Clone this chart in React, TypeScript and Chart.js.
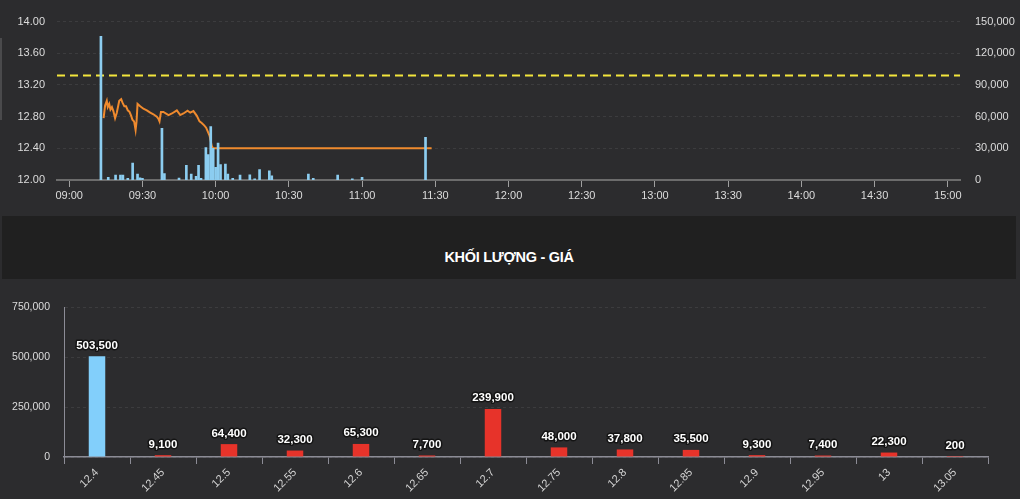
import React, { useEffect, useRef } from "react";
import { Chart, registerables } from "chart.js";

Chart.register(...registerables);

// ---------- Intraday data ----------
const timeTicks = ["09:00", "09:30", "10:00", "10:30", "11:00", "11:30", "12:00", "12:30", "13:00", "13:30", "14:00", "14:30", "15:00"];
const priceTicks = [12, 12.4, 12.8, 13.2, 13.6, 14];
const volumeTicks = [0, 30000, 60000, 90000, 120000, 150000];
const referencePrice = 13.32;

const priceTimes = [
  "09:14:06", "09:14:42", "09:15:24", "09:15:48", "09:16:24", "09:16:54", "09:17:30", "09:18:06", "09:18:48", "09:19:30",
  "09:20:30", "09:21:18", "09:21:48", "09:22:36", "09:23:18", "09:24:00", "09:24:42", "09:25:24", "09:25:54", "09:26:36",
  "09:27:12", "09:27:36", "09:28:00", "09:29:06", "09:30:24", "09:31:48", "09:33:12", "09:34:30", "09:35:54", "09:36:36",
  "09:37:00", "09:37:36", "09:38:36", "09:40:42", "09:42:06", "09:44:06", "09:45:30", "09:46:48", "09:48:30", "09:49:36",
  "09:50:54", "09:52:18", "09:53:24", "09:54:18", "09:55:18", "09:56:06", "09:56:48", "09:57:30", "09:58:24", "09:58:54",
  "11:28:30",
];
const priceValues = [
  12.78, 12.94, 13.0, 12.92, 12.96, 12.89, 12.92, 12.87, 12.78, 12.85,
  13.0, 13.02, 12.98, 12.93, 12.93, 12.88, 12.86, 12.81, 12.76, 12.74,
  12.63, 12.74, 12.96, 12.93, 12.9, 12.88, 12.85, 12.83, 12.8, 12.77,
  12.74, 12.86, 12.86, 12.82, 12.84, 12.88, 12.82, 12.84, 12.875, 12.85,
  12.87, 12.81, 12.74, 12.72, 12.69, 12.66, 12.61, 12.56, 12.43, 12.4,
  12.4,
];

const volumeTimes = [
  "09:13", "09:16", "09:19", "09:21", "09:22", "09:24", "09:26", "09:28", "09:29", "09:30",
  "09:38", "09:39", "09:45", "09:48", "09:50", "09:52", "09:53", "09:54", "09:56", "09:57",
  "09:58", "09:59", "10:00", "10:01", "10:02", "10:04", "10:05", "10:07", "10:10", "10:14",
  "10:16", "10:18", "10:22", "10:23", "10:38", "10:40", "10:50", "10:56", "11:00", "11:26",
];
const volumeValues = [
  136000, 2500, 4600, 4600, 4600, 1500, 16000, 5500, 2000, 1500,
  49000, 6100, 1800, 13800, 5500, 3500, 13800, 1500, 30700, 24000,
  50600, 30000, 12000, 35000, 14700, 15000, 5500, 1500, 4600, 5000,
  1200, 9800, 8600, 4000, 5500, 1500, 4600, 1000, 2500, 40500,
];

// ---------- Volume by price ----------
const chartTitle = "KHỐI LƯỢNG - GIÁ";
const levelPrices = ["12.4", "12.45", "12.5", "12.55", "12.6", "12.65", "12.7", "12.75", "12.8", "12.85", "12.9", "12.95", "13", "13.05"];
const levelVolumes = [503500, 9100, 64400, 32300, 65300, 7700, 239900, 48000, 37800, 35500, 9300, 7400, 22300, 200];
const levelTicks = [0, 250000, 500000, 750000];
const highlightLevel = "12.4";

const FONT = "'Liberation Sans', Arial, Helvetica, sans-serif";
const BG = "#2c2c2e";

const toMin = (s: string) => {
  const p = s.split(":").map(Number);
  return p[0] * 60 + p[1] + (p[2] || 0) / 60;
};
const fmtTime = (m: number) => {
  const h = Math.floor(m / 60);
  const mm = Math.round(m - h * 60);
  return String(h).padStart(2, "0") + ":" + String(mm).padStart(2, "0");
};
const fmtNum = (v: number) => Number(v).toLocaleString("en-US");

export default function App() {
  const topRef = useRef<HTMLCanvasElement | null>(null);
  const botRef = useRef<HTMLCanvasElement | null>(null);

  useEffect(() => {
    document.body.style.margin = "0";
    document.body.style.background = BG;
    const xMin = toMin(timeTicks[0]) - 5;
    const xMax = toMin(timeTicks[timeTicks.length - 1]) + 5;

    const top = new Chart(topRef.current!, {
      type: "bar",
      data: {
        datasets: [
          {
            type: "bar",
            data: volumeTimes.map((t, i) => ({ x: toMin(t), y: volumeValues[i] })),
            backgroundColor: "#8ccdf0",
            barThickness: 2,
            yAxisID: "y1",
          } as any,
          {
            type: "line",
            data: priceTimes.map((t, i) => ({ x: toMin(t), y: priceValues[i] })),
            borderColor: "#ef8a2e",
            borderWidth: 2,
            pointRadius: 0,
            tension: 0,
            yAxisID: "y",
          },
          {
            type: "line",
            data: [
              { x: xMin, y: referencePrice },
              { x: xMax, y: referencePrice },
            ],
            borderColor: "#f3e63c",
            borderWidth: 2,
            borderDash: [8, 5],
            pointRadius: 0,
            yAxisID: "y",
          },
        ],
      },
      options: {
        responsive: false,
        animation: false,
        events: [],
        layout: { padding: { top: 17, left: 0, right: 0, bottom: 0 } },
        plugins: { legend: { display: false }, tooltip: { enabled: false } },
        scales: {
          x: {
            type: "linear",
            offset: false,
            min: xMin,
            max: xMax,
            afterBuildTicks: (s: any) => {
              s.ticks = timeTicks.map((t) => ({ value: toMin(t) }));
            },
            afterFit: (s: any) => {
              s.height = 35;
            },
            ticks: {
              color: "#dcdcdc",
              font: { family: FONT, size: 11 },
              padding: 2,
              maxRotation: 0,
              autoSkip: false,
              callback: (v: any) => fmtTime(Number(v)),
            },
            grid: { display: true, offset: false, drawOnChartArea: false, drawTicks: true, tickLength: 7, color: "#a0a0a0", tickWidth: 1 },
            border: { display: true, color: "#6c6c6c", width: 2 },
          },
          y: {
            position: "left",
            min: priceTicks[0],
            max: priceTicks[priceTicks.length - 1],
            afterBuildTicks: (s: any) => {
              s.ticks = priceTicks.map((v) => ({ value: v }));
            },
            afterFit: (s: any) => {
              s.width = 57;
            },
            ticks: {
              color: "#dcdcdc",
              font: { family: FONT, size: 11 },
              padding: 12,
              callback: (v: any) => Number(v).toFixed(2),
            },
            grid: { color: "rgba(255,255,255,0.08)", drawTicks: false, lineWidth: 1 },
            border: { display: false, dash: [3, 3] },
          },
          y1: {
            position: "right",
            min: volumeTicks[0],
            max: volumeTicks[volumeTicks.length - 1],
            afterBuildTicks: (s: any) => {
              s.ticks = volumeTicks.map((v) => ({ value: v }));
            },
            afterFit: (s: any) => {
              s.width = 60;
            },
            ticks: {
              color: "#dcdcdc",
              font: { family: FONT, size: 11 },
              padding: 15,
              callback: (v: any) => fmtNum(v),
            },
            grid: { display: false, drawTicks: false },
            border: { display: false },
          },
        },
      } as any,
    });

    const labelPlugin = {
      id: "barValueLabels",
      afterDatasetsDraw(chart: any) {
        const ctx = chart.ctx;
        const meta = chart.getDatasetMeta(0);
        ctx.save();
        ctx.font = `bold 11.5px ${FONT}`;
        ctx.textAlign = "center";
        ctx.textBaseline = "bottom";
        ctx.lineJoin = "round";
        ctx.lineWidth = 3;
        ctx.strokeStyle = "rgba(18,18,18,0.9)";
        ctx.fillStyle = "#ffffff";
        meta.data.forEach((el: any, i: number) => {
          const text = fmtNum(levelVolumes[i]);
          ctx.strokeText(text, el.x, el.y - 5);
          ctx.fillText(text, el.x, el.y - 5);
        });
        ctx.restore();
      },
    };

    const bot = new Chart(botRef.current!, {
      type: "bar",
      data: {
        labels: levelPrices,
        datasets: [
          {
            data: levelVolumes,
            backgroundColor: levelPrices.map((p) => (p === highlightLevel ? "#82cffb" : "#e7332a")),
            barPercentage: 0.25,
            categoryPercentage: 1,
          },
        ],
      },
      options: {
        responsive: false,
        animation: false,
        events: [],
        layout: { padding: { top: 28, left: 0, right: 32, bottom: 0 } },
        plugins: { legend: { display: false }, tooltip: { enabled: false } },
        scales: {
          x: {
            afterFit: (s: any) => {
              s.height = 42;
            },
            ticks: {
              color: "#d4d4d4",
              font: { family: FONT, size: 11 },
              minRotation: 45,
              maxRotation: 45,
              autoSkip: false,
              padding: 2,
            },
            grid: { display: true, offset: true, drawOnChartArea: false, drawTicks: true, tickLength: 7, color: "#8c8c96" },
            border: { display: true, color: "#8c8c96", width: 1.5 },
          },
          y: {
            min: levelTicks[0],
            max: levelTicks[levelTicks.length - 1],
            afterBuildTicks: (s: any) => {
              s.ticks = levelTicks.map((v) => ({ value: v }));
            },
            afterFit: (s: any) => {
              s.width = 64;
            },
            ticks: {
              color: "#dcdcdc",
              font: { family: FONT, size: 10.5 },
              padding: 14,
              callback: (v: any) => fmtNum(v),
            },
            grid: { color: "rgba(255,255,255,0.08)", drawTicks: false },
            border: { display: true, color: "#8c8c96", width: 1, dash: [3, 3] },
          },
        },
      } as any,
      plugins: [labelPlugin],
    });

    return () => {
      top.destroy();
      bot.destroy();
    };
  }, []);

  return (
    <div style={{ position: "absolute", left: 0, top: 0, width: 1020, height: 499, background: BG, overflow: "hidden" }}>
      <canvas ref={topRef} width={1020} height={215} style={{ position: "absolute", left: 0, top: 0, width: 1020, height: 215 }} />
      <div style={{ position: "absolute", left: 0, top: 38, width: 2, height: 82, background: "#4a4a4c" }} />
      <div
        style={{
          position: "absolute",
          left: 2,
          top: 216,
          width: 1014,
          height: 63,
          background: "#202020",
          display: "flex",
          alignItems: "flex-end",
          justifyContent: "center",
          boxSizing: "border-box",
          paddingBottom: 13,
        }}
      >
        <span style={{ color: "#ffffff", fontFamily: FONT, fontWeight: "bold", fontSize: 14.5, letterSpacing: -0.3, lineHeight: "18px" }}>
          {chartTitle}
        </span>
      </div>
      <canvas ref={botRef} width={1020} height={220} style={{ position: "absolute", left: 0, top: 279, width: 1020, height: 220 }} />
    </div>
  );
}
